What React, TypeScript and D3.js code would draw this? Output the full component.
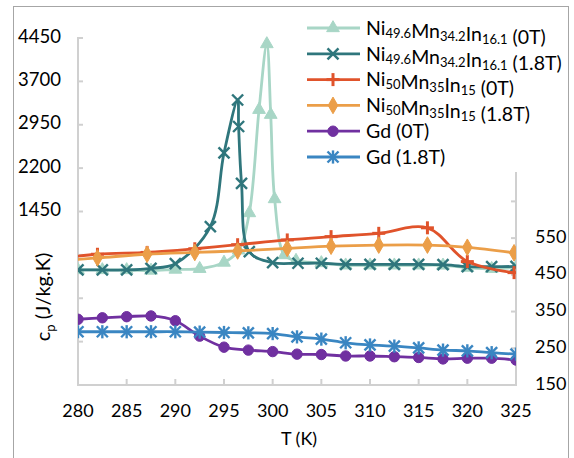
import React, { useEffect, useRef } from 'react'
import * as d3 from 'd3'

// temperatures (K) for each data set
const tGd = [280, 282.5, 285, 287.5, 290, 292.5, 295, 297.5, 300, 302.5, 305, 307.5, 310, 312.5, 315, 317.5, 320, 322.5, 325]
const tNi50 = [277.1, 282, 287.1, 292, 296.4, 301.5, 306, 310.9, 315.9, 320, 324.8]
const tNi496_0T = [280, 282.5, 285, 287.5, 290, 292.5, 295, 296.5, 297.6, 298.6, 299.4, 299.8, 300.2, 301.2, 302.4, 305, 307.5, 310, 312.5, 315, 317.5, 320, 322.5, 325]
const tNi496_18T = [280, 282.5, 285, 287.5, 290, 293.6, 295, 296.4, 296.5, 296.8, 297.6, 300, 302.6, 305, 307.5, 310, 312.5, 315, 317.5, 320, 322.5, 325]

// cp values (J/kg.K) - Ni49.6 series read on left axis, the rest on right axis
const ni496_0T = [439, 439, 439, 430, 447, 460, 568, 779, 1424, 3210, 4346, 3124, 1666, 698, 600, 560, 520, 520, 520, 520, 518, 480, 460, 485]
const ni496_18T = [439, 439, 439, 468, 547, 1190, 2462, 3378, 2920, 1938, 755, 565, 555, 555, 537, 537, 537, 537, 530, 496, 496, 500]
const ni50_0T = [492, 506, 511, 521, 532, 545, 554, 563, 578, 486, 456]
const ni50_18T = [487, 496, 506, 511, 515, 522, 528, 531, 531, 525, 510]
const gd0T = [329, 333, 336, 338, 325, 283, 253, 245, 241, 234, 233, 229, 229, 227, 225, 221, 223, 223, 218]
const gd18T = [295, 295, 295, 295, 295, 294, 293, 292, 290, 281, 275, 265, 259, 256, 251, 245, 243, 238, 234]

const xTicks = [280, 285, 290, 295, 300, 305, 310, 315, 320, 325]
const leftTicks = [-1550, -800, -50, 700, 1450, 2200, 2950, 3700, 4450]
const leftLabels = [1450, 2200, 2950, 3700, 4450]
const rightTicks = [150, 250, 350, 450, 550, 650]
const rightLabels = [150, 250, 350, 450, 550]

// legend: [main, sub, main, sub, main, sub, tail]
const names = [
  ['Ni', '49.6', 'Mn', '34.2', 'In', '16.1', ' (0T)'],
  ['Ni', '49.6', 'Mn', '34.2', 'In', '16.1', ' (1.8T)'],
  ['Ni', '50', 'Mn', '35', 'In', '15', ' (0T)'],
  ['Ni', '50', 'Mn', '35', 'In', '15', ' (1.8T)'],
  ['Gd (0T)'],
  ['Gd (1.8T)'],
]
const colors = ['#a8d6c6', '#2f767c', '#e0532b', '#eb9e48', '#7030a0', '#3a86c2']
const markers = ['triangle', 'x', 'plus', 'diamond', 'circle', 'star']

function drawMarker(g, type, color, x, y) {
  if (type === 'triangle' || type === 'diamond' || type === 'circle') {
    const sym = type === 'triangle' ? d3.symbolTriangle : type === 'diamond' ? d3.symbolDiamond : d3.symbolCircle
    const size = type === 'triangle' ? 70 : type === 'diamond' ? 80 : 85
    g.append('path')
      .attr('d', d3.symbol().type(sym).size(size)())
      .attr('transform', `translate(${x},${y})`)
      .attr('fill', color)
      .attr('stroke', color)
      .attr('stroke-width', 1)
    return
  }
  const r = type === 'plus' ? 6.5 : 5.5
  const segs = []
  if (type === 'x' || type === 'star') segs.push([-r, -r, r, r], [-r, r, r, -r])
  if (type === 'plus') segs.push([-r, 0, r, 0], [0, -r, 0, r])
  if (type === 'star') segs.push([0, -r * 1.2, 0, r * 1.2])
  segs.forEach(s => {
    g.append('line')
      .attr('x1', x + s[0]).attr('y1', y + s[1])
      .attr('x2', x + s[2]).attr('y2', y + s[3])
      .attr('stroke', color)
      .attr('stroke-width', type === 'plus' ? 3 : 2.4)
  })
}

export default function App() {
  const ref = useRef(null)

  useEffect(() => {
    const svg = d3.select(ref.current)
    svg.selectAll('*').remove()

    const font = 'Lato, "Open Sans", sans-serif'
    const axisColor = '#d0d0d0'

    const x = d3.scaleLinear().domain([280, 325]).range([78, 516])
    const yL = d3.scaleLinear().domain([-1550, 4450]).range([385, 38])
    const yR = d3.scaleLinear().domain([150, 730]).range([385, 172])

    // chart border
    svg.append('rect')
      .attr('x', 13.5).attr('y', 6.5)
      .attr('width', 555).attr('height', 470)
      .attr('fill', 'white')
      .attr('stroke', '#a6a6a6')

    svg.append('defs').append('clipPath').attr('id', 'plot-clip')
      .append('rect').attr('x', 78).attr('y', 0).attr('width', 438).attr('height', 400)

    // axes
    const ax = svg.append('g').attr('stroke', axisColor).attr('stroke-width', 2)
    ax.append('line').attr('x1', 78).attr('x2', 78).attr('y1', 37).attr('y2', 386)
    ax.append('line').attr('x1', 516).attr('x2', 516).attr('y1', 172).attr('y2', 386)
    ax.append('line').attr('x1', 77).attr('x2', 517).attr('y1', 385).attr('y2', 385)
    xTicks.forEach(t => {
      ax.append('line').attr('x1', x(t)).attr('x2', x(t)).attr('y1', 385).attr('y2', 379)
    })
    leftTicks.forEach(t => {
      ax.append('line').attr('x1', 78).attr('x2', 83).attr('y1', yL(t)).attr('y2', yL(t))
    })
    rightTicks.forEach(t => {
      ax.append('line').attr('x1', 516).attr('x2', 511).attr('y1', yR(t)).attr('y2', yR(t))
    })

    const txt = svg.append('g').attr('font-family', font).attr('font-size', 18).attr('fill', '#000')
    xTicks.forEach(t => {
      txt.append('text').attr('x', x(t)).attr('y', 412)
        .attr('text-anchor', 'middle').attr('dominant-baseline', 'middle').text(t)
    })
    leftLabels.forEach(t => {
      txt.append('text').attr('x', 61).attr('y', yL(t)).attr('font-size', 18.5)
        .attr('text-anchor', 'end').attr('dominant-baseline', 'middle').text(t)
    })
    rightLabels.forEach(t => {
      txt.append('text').attr('x', 535).attr('y', yR(t))
        .attr('dominant-baseline', 'middle').text(t)
    })
    txt.append('text').attr('x', 299).attr('y', 440)
      .attr('text-anchor', 'middle').attr('dominant-baseline', 'middle').text('T (K)')
    const yt = txt.append('text')
      .attr('transform', 'translate(50,297) rotate(-90)')
      .attr('font-size', 20)
      .attr('text-anchor', 'middle')
    yt.append('tspan').text('c')
    yt.append('tspan').attr('font-size', 13).attr('dy', 5).text('p')
    yt.append('tspan').attr('dy', -5).text(' (J/kg.K)')

    // series
    const series = [
      { t: tNi496_0T, v: ni496_0T, y: yL },
      { t: tNi496_18T, v: ni496_18T, y: yL },
      { t: tNi50, v: ni50_0T, y: yR },
      { t: tNi50, v: ni50_18T, y: yR },
      { t: tGd, v: gd0T, y: yR },
      { t: tGd, v: gd18T, y: yR },
    ]
    const plot = svg.append('g').attr('clip-path', 'url(#plot-clip)')
    series.forEach((s, i) => {
      const pts = s.t.map((t, j) => [x(t), s.y(s.v[j])])
      const line = d3.line().curve(d3.curveCatmullRom.alpha(0.5))
      const g = plot.append('g')
      g.append('path')
        .attr('d', line(pts))
        .attr('fill', 'none')
        .attr('stroke', colors[i])
        .attr('stroke-width', 2.8)
      pts.forEach(p => {
        if (p[0] >= 77) drawMarker(g, markers[i], colors[i], p[0], p[1])
      })
    })

    // legend
    const leg = svg.append('g')
    names.forEach((n, i) => {
      const ly = 28 + i * 25.8
      leg.append('line').attr('x1', 307).attr('x2', 360).attr('y1', ly).attr('y2', ly)
        .attr('stroke', colors[i]).attr('stroke-width', 2.8)
      drawMarker(leg, markers[i], colors[i], 333, ly)
      const tx = leg.append('text')
        .attr('x', 366).attr('y', ly)
        .attr('dy', '0.35em')
        .attr('font-family', font).attr('font-size', 19.5)
      if (n.length === 1) {
        tx.text(n[0])
      } else {
        for (let k = 0; k < 6; k += 2) {
          tx.append('tspan').text(n[k])
          tx.append('tspan').attr('font-size', 13).attr('dy', 3).text(n[k + 1])
          tx.append('tspan').attr('dy', -3).text('')
        }
        tx.append('tspan').text(n[6])
      }
    })
  }, [])

  return (
    <svg ref={ref} width={574} height={458}
      style={{ position: 'absolute', left: 0, top: 0, background: 'white' }} />
  )
}
